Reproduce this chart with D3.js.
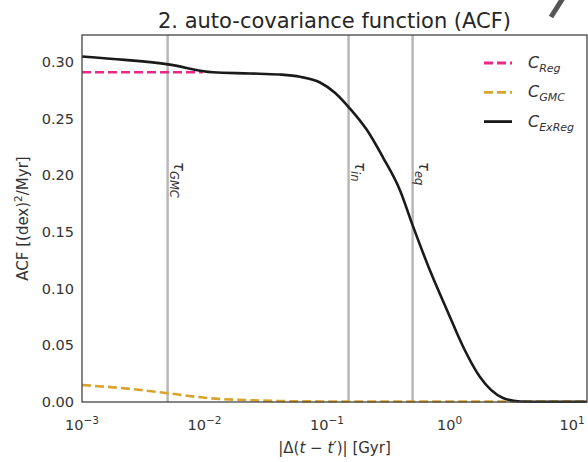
<!DOCTYPE html>
<html><head><meta charset="utf-8">
<script src="https://cdn.jsdelivr.net/npm/d3@7"></script>
<style>body{margin:0;background:#fff}svg{display:block;font-family:"DejaVu Sans",sans-serif}</style>
</head><body><svg id="c" width="588" height="462"></svg>
<script>
const title = "2. auto-covariance function (ACF)";
const xTicks = [1e-3, 1e-2, 1e-1, 1e0, 1e1];
const xTickExp = ["−3", "−2", "−1", "0", "1"];
const yTicks = [0, 0.05, 0.10, 0.15, 0.20, 0.25, 0.30];
// C_ExReg (black)
const exRegX = [0.001, 0.00224, 0.00504, 0.0117, 0.0235, 0.0413, 0.0602, 0.0877, 0.116, 0.154, 0.212, 0.286, 0.394, 0.504, 0.693, 0.955, 1.289, 1.774, 2.735, 3.77, 6, 13.2];
const exRegY = [0.305, 0.302, 0.298, 0.291, 0.290, 0.289, 0.287, 0.282, 0.273, 0.259, 0.240, 0.216, 0.187, 0.155, 0.116, 0.081, 0.049, 0.022, 0.0035, 0.0005, 0.0002, 0.0002];
// C_Reg (pink dashed)
const regX = [0.001, 0.0097];
const regY = [0.291, 0.291];
// C_GMC (gold dashed)
const gmcX = [0.001, 0.00224, 0.00504, 0.0111, 0.0249, 0.0602, 0.2, 1, 13.2];
const gmcY = [0.015, 0.012, 0.0077, 0.0033, 0.0015, 0.0006, 0.0004, 0.0004, 0.0004];
// time scales [Gyr]
const tauNames = ["GMC", "in", "eq"];
const tauVals = [0.005, 0.15, 0.5];
const legendNames = ["Reg", "GMC", "ExReg"];
const colors = {Reg: "#e8298a", GMC: "#d9a42e", ExReg: "#1a1a1a"};

const svg = d3.select("#c");
const L = 82, R = 587, T = 35, B = 402;
const x = d3.scaleLog().domain([1e-3, 1e1]).range([L, 572]);
const y = d3.scaleLinear().domain([0, 0.30]).range([B, B - 0.30 * 1133]);
const txt = "#333";

// title
svg.append("text").attr("x", (L + R) / 2).attr("y", 28).attr("text-anchor", "middle")
  .attr("font-size", 21).attr("fill", "#262626").text(title);

// tau lines
tauVals.forEach((t, i) => {
  svg.append("line").attr("x1", x(t)).attr("x2", x(t)).attr("y1", T).attr("y2", B)
    .attr("stroke", "#b8b8b8").attr("stroke-width", 2.5);
  const g = svg.append("text").attr("transform", `translate(${x(t) + 6},162) rotate(90)`)
    .attr("font-size", 15).attr("fill", txt).attr("font-style", "italic");
  g.append("tspan").text("τ");
  g.append("tspan").attr("dy", 4).attr("font-size", 11.5).text(tauNames[i]);
});

const line = d3.line().x(d => x(d[0])).y(d => y(d[1])).curve(d3.curveMonotoneX);
svg.append("path").datum(gmcX.map((v, i) => [v, gmcY[i]])).attr("d", line)
  .attr("fill", "none").attr("stroke", colors.GMC).attr("stroke-width", 2.6).attr("stroke-dasharray", "9,4");
svg.append("path").datum(regX.map((v, i) => [v, regY[i]])).attr("d", line)
  .attr("fill", "none").attr("stroke", colors.Reg).attr("stroke-width", 2.6).attr("stroke-dasharray", "9,4");
svg.append("path").datum(exRegX.map((v, i) => [v, exRegY[i]])).attr("d", line)
  .attr("fill", "none").attr("stroke", colors.ExReg).attr("stroke-width", 2.6);

// frame
svg.append("rect").attr("x", L).attr("y", T).attr("width", R - L).attr("height", B - T)
  .attr("fill", "none").attr("stroke", "#444").attr("stroke-width", 1.3);

// y ticks
yTicks.forEach(v => {
  svg.append("text").attr("x", L - 8).attr("y", y(v) + 5).attr("text-anchor", "end")
    .attr("font-size", 14.5).attr("fill", txt).text(v.toFixed(2));
});
// x ticks
xTicks.forEach((v, i) => {
  const t = svg.append("text").attr("x", x(v)).attr("y", 430).attr("text-anchor", "middle")
    .attr("font-size", 14.5).attr("fill", txt);
  t.append("tspan").text("10");
  t.append("tspan").attr("dy", -6).attr("font-size", 10.5).text(xTickExp[i]);
});

// axis labels
const xl = svg.append("text").attr("x", (L + R) / 2).attr("y", 453).attr("text-anchor", "middle")
  .attr("font-size", 15).attr("fill", txt);
xl.append("tspan").text("|Δ(");
xl.append("tspan").attr("font-style", "italic").text("t");
xl.append("tspan").text(" − ");
xl.append("tspan").attr("font-style", "italic").text("t′");
xl.append("tspan").text(")| [Gyr]");

const yl = svg.append("text").attr("transform", `translate(28,${(T + B) / 2}) rotate(-90)`)
  .attr("text-anchor", "middle").attr("font-size", 15).attr("fill", txt);
yl.append("tspan").text("ACF [(dex)");
yl.append("tspan").attr("dy", -6).attr("font-size", 10.5).text("2");
yl.append("tspan").attr("dy", 6).text("/Myr]");

// legend
legendNames.forEach((n, i) => {
  const yy = 63 + i * 29.3;
  svg.append("line").attr("x1", 484).attr("x2", 512).attr("y1", yy).attr("y2", yy)
    .attr("stroke", colors[n]).attr("stroke-width", 2.8)
    .attr("stroke-dasharray", n === "ExReg" ? null : "9,4");
  const t = svg.append("text").attr("x", 528).attr("y", yy + 5).attr("font-size", 16)
    .attr("fill", txt).attr("font-style", "italic");
  t.append("tspan").text("C");
  t.append("tspan").attr("dy", 4).attr("font-size", 11).text(n);
});

// stray mark at top-right of the reference
svg.append("line").attr("x1", 563).attr("y1", -2).attr("x2", 551).attr("y2", 17)
  .attr("stroke", "#555").attr("stroke-width", 5);
</script></body></html>
